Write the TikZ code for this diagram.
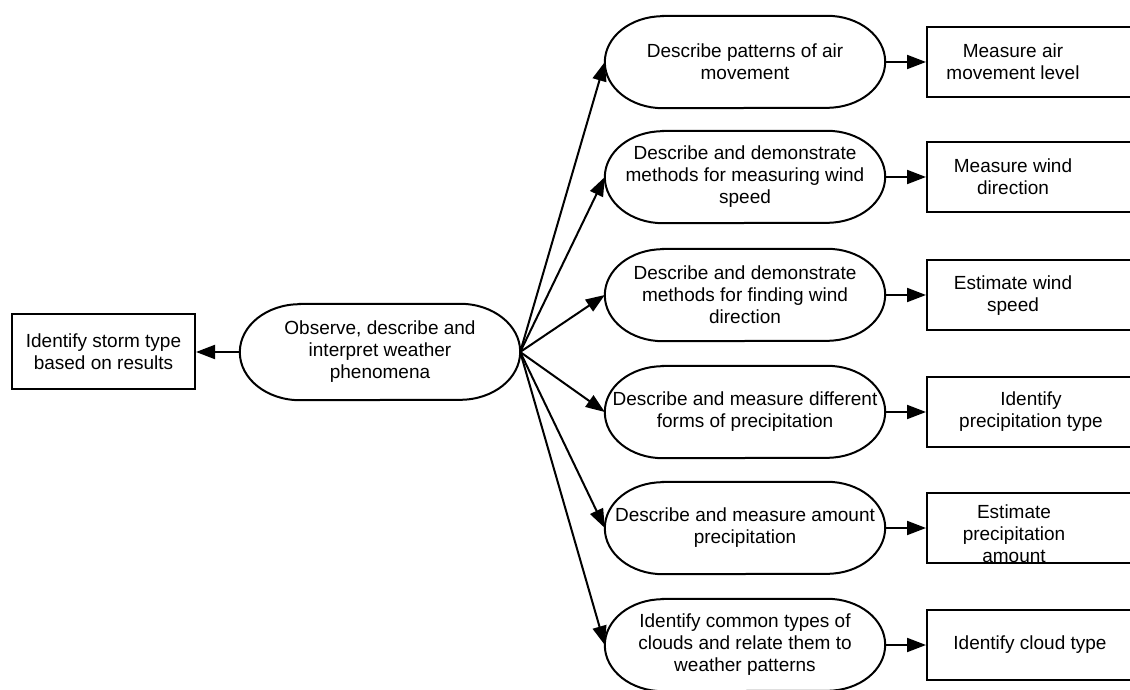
\documentclass[tikz,border=0pt]{standalone}
\usepackage{fontspec}
\setmainfont{Liberation Sans}
\usetikzlibrary{arrows.meta,calc}
\newcommand\stadoutline[3]{%
  \draw[outl] ($(#1.north west)+(#2,0)$) -- ($(#1.north east)+(-#2,0)$)
    arc[start angle=90,end angle=-90,x radius=#2pt,y radius=#3pt]
    -- ($(#1.south west)+(#2,0)$)
    arc[start angle=270,end angle=90,x radius=#2pt,y radius=#3pt] -- cycle;}
\begin{document}
\begin{tikzpicture}[x=1pt,y=1pt,
  outl/.style={line width=2pt,draw=black},
  stad/.style={rectangle,draw=none,minimum width=280pt,minimum height=92pt,inner sep=0pt},
  rbox/.style={rectangle,draw=black,line width=2pt,minimum width=213pt,minimum height=70pt,inner sep=0pt},
  txt/.style={align=center,font=\fontsize{19pt}{22pt}\selectfont,inner sep=0pt},
  conn/.style={line width=2pt,-{Triangle[length=19pt,width=14pt]}}]
\useasboundingbox (0,0) rectangle (1130,689);
\clip (0,0) rectangle (1130,689);
% central and left
\node[stad,minimum height=96pt] (c) at (380,337) {};
\stadoutline{c}{60}{48}
\node[txt] (ct) at (380,337) {Observe, describe and\\interpret weather\\phenomena};
\node[rbox,minimum width=183pt,minimum height=75pt] (l) at (103.5,337) {};
\node[txt] (lt) at (103.5,337) {Identify storm type\\based on results};
% right stadiums
\node[stad] (s1) at (745,627) {};
\node[stad] (s2) at (745,512) {};
\node[stad] (s3) at (745,394) {};
\node[stad] (s4) at (745,277) {};
\node[stad] (s5) at (745,161) {};
\node[stad] (s6) at (745,44) {};
\foreach \n in {s1,s2,s3,s4,s5,s6}{\stadoutline{\n}{58}{46}}
\node[txt] (t1) at (745,627) {Describe patterns of air\\movement};
\node[txt] (t2) at (745,512) {Describe and demonstrate\\methods for measuring wind\\speed};
\node[txt] (t3) at (745,394) {Describe and demonstrate\\methods for finding wind\\direction};
\node[txt] (t4) at (745,277) {Describe and measure different\\forms of precipitation};
\node[txt] (t5) at (745,161) {Describe and measure amount\\precipitation};
\node[txt] (t6) at (745,44) {Identify common types of\\clouds and relate them to\\weather patterns};
% right boxes
\node[rbox] (b1) at (1033.5,627) {};
\node[rbox] (b2) at (1033.5,512) {};
\node[rbox] (b3) at (1033.5,394) {};
\node[rbox] (b4) at (1033.5,277) {};
\node[rbox] (b5) at (1033.5,161) {};
\node[rbox] (b6) at (1033.5,44) {};
\node[txt] (bt1) at (1013,627) {Measure air\\movement level};
\node[txt] (bt2) at (1013,512) {Measure wind\\direction};
\node[txt] (bt3) at (1013,393) {Estimate wind\\speed};
\node[txt] (bt4) at (1031,277) {Identify\\precipitation type};
\node[txt] (bt5) at (1014,155) {Estimate\\precipitation\\amount};
\node[txt] (bt6) at (1030,44) {Identify cloud type};
% connectors
\draw[conn] (c.west) -- (l.east);
\foreach \i in {1,...,6}{
  \draw[conn] (c.east) -- (s\i.west);
  \draw[conn] (s\i.east) -- (b\i.west);
}
\end{tikzpicture}
\end{document}
